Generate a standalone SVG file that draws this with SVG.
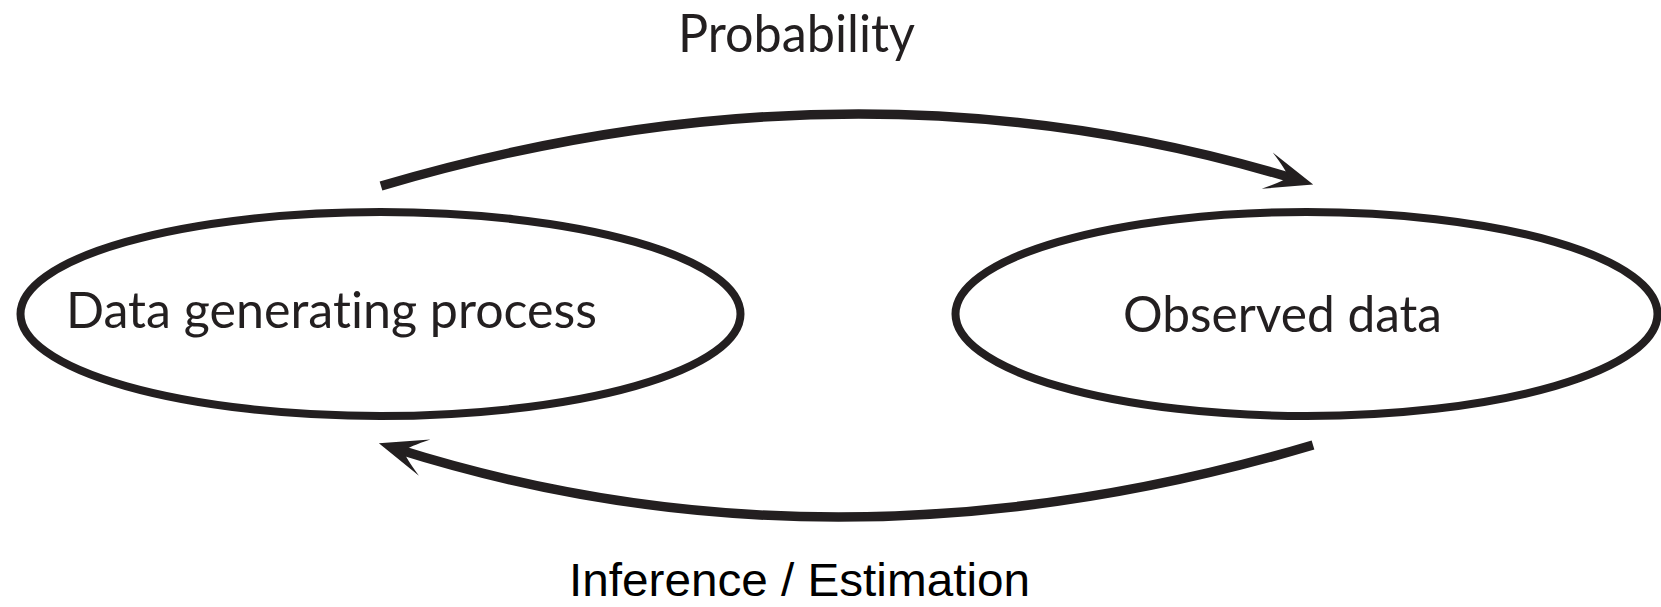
<svg xmlns="http://www.w3.org/2000/svg" width="1661" height="607" viewBox="0 0 1661 607">
  <style>
    .node { fill: #ffffff; stroke: #231f20; stroke-width: 8; }
    .lbl { font-family: Lato, "Noto Sans", sans-serif; font-size: 50px; fill: #231f20; font-variant-ligatures: none; }
    .edge { fill: none; stroke: #231f20; stroke-width: 9.5; }
    .elbl { font-family: Lato, "Noto Sans", sans-serif; font-size: 52px; fill: #231f20; font-variant-ligatures: none; }
    .elbl2 { font-family: "Liberation Sans", Arial, sans-serif; font-size: 47px; fill: #000000; }
  </style>
  <defs>
    <marker id="arrow" markerUnits="userSpaceOnUse" orient="auto" refX="0" refY="0" markerWidth="80" markerHeight="60" viewBox="-40 -30 80 60" overflow="visible">
      <path d="M19,0 L-29,-19 Q-11,-6 -7,0 Q-11,6 -29,19 Z" fill="#231f20"/>
    </marker>
  </defs>
  <rect width="1661" height="607" fill="#ffffff"/>
  <g id="node-dgp">
    <ellipse class="node" cx="380.5" cy="314" rx="360" ry="102"/>
    <text class="lbl" x="66" y="328" textLength="531" lengthAdjust="spacingAndGlyphs">Data generating process</text>
  </g>
  <g id="node-observed">
    <ellipse class="node" cx="1306.5" cy="314" rx="351" ry="102"/>
    <text class="lbl" x="1123" y="332" textLength="319" lengthAdjust="spacingAndGlyphs">Observed data</text>
  </g>
  <g id="connectors">
    <path class="edge" d="M381,186 Q856,45.5 1295,179" marker-end="url(#arrow)"/>
    <path class="edge" d="M1313,445 Q835,587 397,449" marker-end="url(#arrow)"/>
  </g>
  <g id="labels">
    <text class="elbl" x="678" y="52" textLength="237" lengthAdjust="spacingAndGlyphs">Probability</text>
    <text class="elbl2" x="569" y="596" textLength="461" lengthAdjust="spacingAndGlyphs">Inference / Estimation</text>
  </g>
</svg>
